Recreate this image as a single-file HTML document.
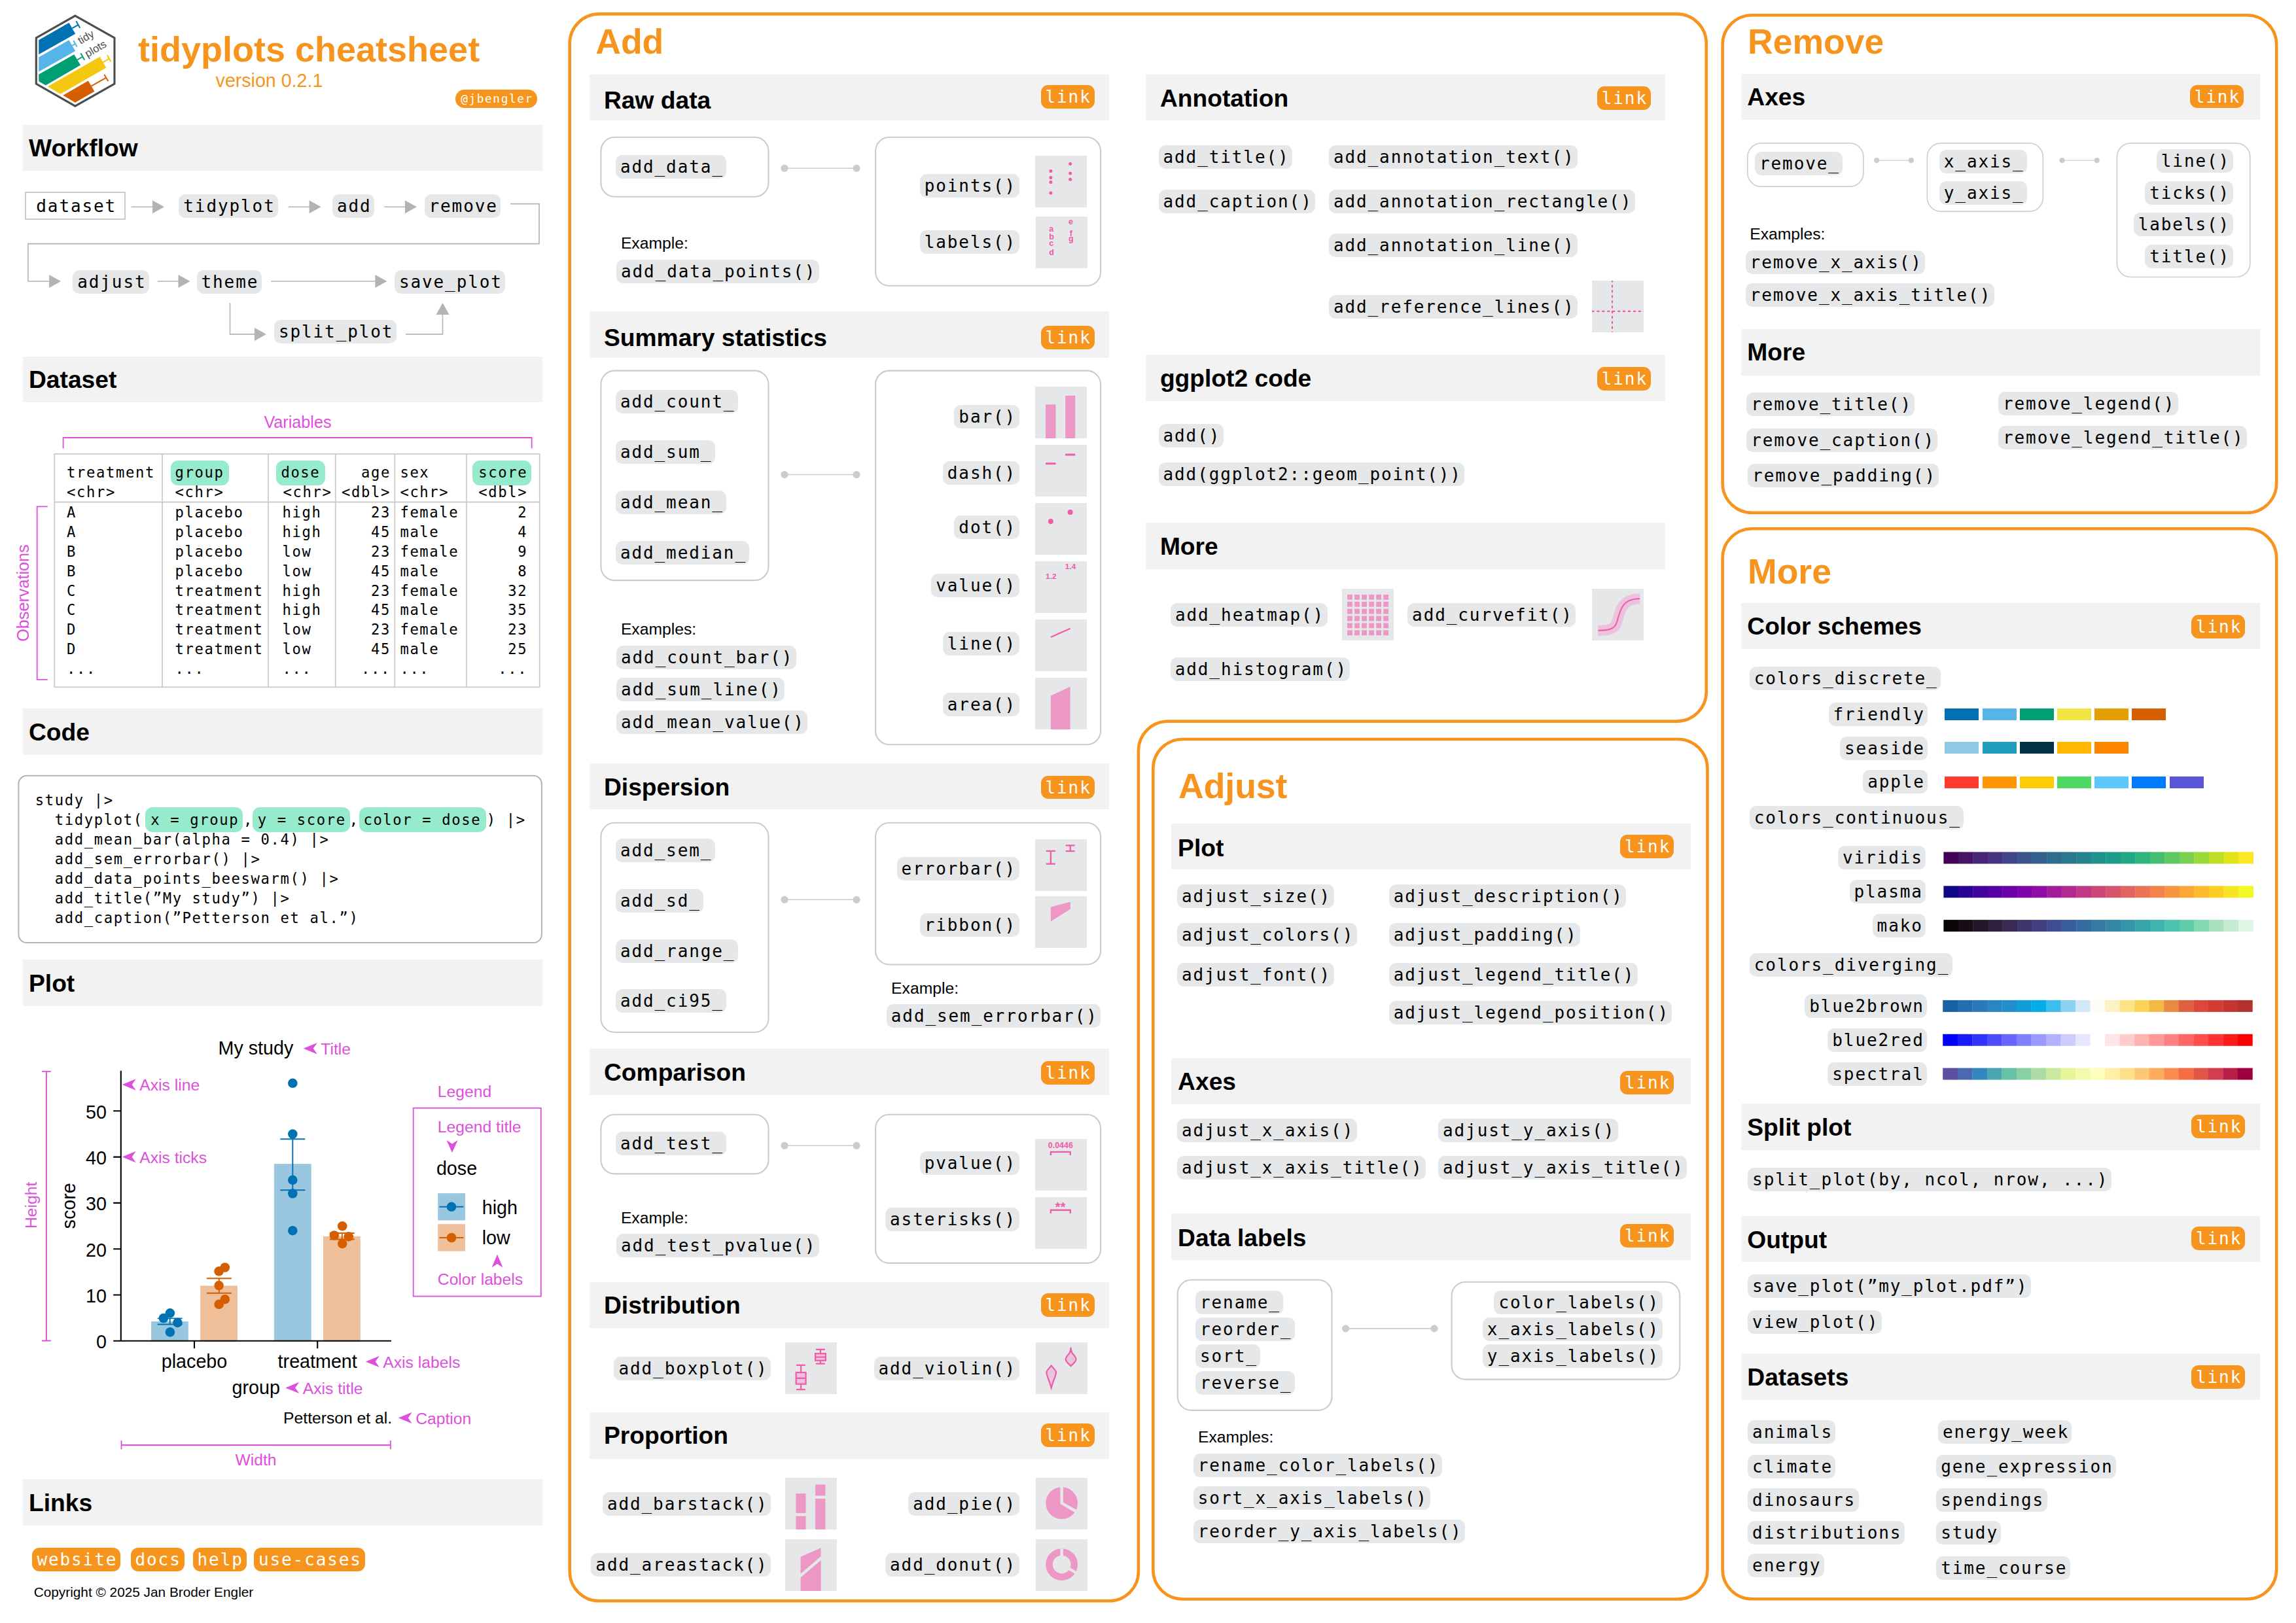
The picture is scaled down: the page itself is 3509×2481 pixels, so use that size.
<!DOCTYPE html>
<html lang="en"><head><meta charset="utf-8"><title>tidyplots cheatsheet</title><style>
html,body{margin:0;padding:0;background:#fff}
body{width:3509px;height:2481px;position:relative;font-family:"Liberation Sans",sans-serif}
.a{position:absolute}
.t{white-space:pre;font-family:"Liberation Sans",sans-serif}
.m{white-space:pre;font-family:"DejaVu Sans Mono","Liberation Mono",monospace}
.p{height:36px;line-height:37.4px;font-size:26.0px;letter-spacing:1.9px;padding-left:7px;border-radius:10px;color:#000}
.bd{background:#f7941d;color:#fff;text-align:center}
.bx{border:1.9px solid #cacaca;background:transparent;box-sizing:border-box}
svg{overflow:visible}
.th{overflow:hidden}
</style></head>
<body>
<svg class="a" style="left:0;top:0" width="3509" height="2481" viewBox="0 0 3509 2481">
<polygon points="59.16,61.31 105.45,34.82 115.18,51.68 59.16,83.3" fill="#0072B2"/>
<line x1="110.37" y1="43.19" x2="119.27" y2="38.06" stroke="#0072B2" stroke-width="2.0"/><line x1="116.44" y1="32.2" x2="122.2" y2="42.67" stroke="#0072B2" stroke-width="2.0"/>
<polygon points="59.16,87.49 105.45,61.31 115.18,78.06 59.16,109.69" fill="#56B4E9"/>
<line x1="110.37" y1="69.69" x2="114.97" y2="67.07" stroke="#56B4E9" stroke-width="2.0"/><line x1="112.25" y1="62.04" x2="117.7" y2="71.57" stroke="#56B4E9" stroke-width="2.0"/>
<polygon points="59.16,113.87 113.3,83.3 123.04,99.53 69.84,130.42 59.16,124.14" fill="#009E73"/>
<line x1="118.22" y1="91.47" x2="126.39" y2="86.75" stroke="#009E73" stroke-width="2.0"/><line x1="123.46" y1="81.41" x2="129.21" y2="91.68" stroke="#009E73" stroke-width="2.0"/>
<polygon points="72.98,132.2 152.57,86.75 162.3,103.51 92.36,143.72" fill="#F5C710"/>
<line x1="157.49" y1="95.13" x2="166.7" y2="89.79" stroke="#F5C710" stroke-width="2.0"/><line x1="163.87" y1="84.35" x2="169.63" y2="94.5" stroke="#F5C710" stroke-width="2.0"/>
<polygon points="96.23,145.81 134.76,123.61 144.4,139.84 114.87,156.81" fill="#D55E00"/>
<line x1="139.48" y1="131.68" x2="162.51" y2="118.59" stroke="#D55E00" stroke-width="2.0"/><line x1="159.37" y1="113.98" x2="165.45" y2="124.35" stroke="#D55E00" stroke-width="2.0"/>
<polygon points="114.87,24.14 174.97,57.96 174.97,128.01 114.87,162.15 55.29,128.01 55.29,57.96" fill="none" stroke="#4d4d4d" stroke-width="3.1" stroke-linejoin="miter"/>
<text x="134.03" y="61.52" transform="rotate(-30 134.03 61.52)" text-anchor="middle" font-family="Liberation Sans,sans-serif" font-size="16.5" fill="#4d4d4d">tidy</text>
<text x="148.9" y="79.32" transform="rotate(-30 148.9 79.32)" text-anchor="middle" font-family="Liberation Sans,sans-serif" font-size="16.5" fill="#4d4d4d">plots</text>
<line x1="200.5" y1="316.2" x2="234" y2="316.2" stroke="#b3b3b3" stroke-width="1.6"/><polygon points="251,316.2 233,306.2 233,326.2" fill="#b3b3b3"/>
<line x1="440.8" y1="316.2" x2="473.6" y2="316.2" stroke="#b3b3b3" stroke-width="1.6"/><polygon points="490.6,316.2 472.6,306.2 472.6,326.2" fill="#b3b3b3"/>
<line x1="587.2" y1="316.2" x2="620" y2="316.2" stroke="#b3b3b3" stroke-width="1.6"/><polygon points="637,316.2 619,306.2 619,326.2" fill="#b3b3b3"/>
<path d="M780 311.6H824V372.6H42.9V430H76" stroke="#b3b3b3" stroke-width="1.6" fill="none"/><polygon points="93.1,430 75.1,420 75.1,440" fill="#b3b3b3"/>
<line x1="240.7" y1="430" x2="273.5" y2="430" stroke="#b3b3b3" stroke-width="1.6"/><polygon points="290.5,430 272.5,420 272.5,440" fill="#b3b3b3"/>
<line x1="414" y1="430" x2="574.4" y2="430" stroke="#b3b3b3" stroke-width="1.6"/><polygon points="591.4,430 573.4,420 573.4,440" fill="#b3b3b3"/>
<path d="M351.5 463V510.9H390" stroke="#b3b3b3" stroke-width="1.6" fill="none"/><polygon points="407,510.9 389,500.9 389,520.9" fill="#b3b3b3"/>
<path d="M620.2 510.9H676.5V480" stroke="#b3b3b3" stroke-width="1.6" fill="none"/><polygon points="676.5,463 666.5,481 686.5,481" fill="#b3b3b3"/>
<path d="M96.6 685.5V669H812.6V685.5" stroke="#dc50dc" stroke-width="1.8" fill="none"/>
<path d="M72.8 774.4H56.7V1038.9H72.8" stroke="#dc50dc" stroke-width="1.8" fill="none"/>
<rect x="83.2" y="693.9" width="741.6" height="356.5" fill="none" stroke="#ccc" stroke-width="1.8"/>
<path d="M83.2 767.5H824.8M248 693.9V1050.4M410 693.9V1050.4M512.8 693.9V1050.4M603.3 693.9V1050.4M712.9 693.9V1050.4" stroke="#ccc" stroke-width="1.8" fill="none"/>
<rect x="28.4" y="1185.8" width="799.5" height="255.2" rx="12.5" fill="none" stroke="#b3b3b3" stroke-width="2"/>
<polygon points="463.8,1602.7 484.8,1594 478.8,1602.7 484.8,1611.4" fill="#dc50dc"/>
<polygon points="186.7,1658 207.7,1649.3 201.7,1658 207.7,1666.7" fill="#dc50dc"/>
<polygon points="186.7,1768.5 207.7,1759.8 201.7,1768.5 207.7,1777.2" fill="#dc50dc"/>
<polygon points="558.8,2081.4 579.8,2072.7 573.8,2081.4 579.8,2090.1" fill="#dc50dc"/>
<polygon points="436.2,2121.4 457.2,2112.7 451.2,2121.4 457.2,2130.1" fill="#dc50dc"/>
<polygon points="608.7,2167.4 629.7,2158.7 623.7,2167.4 629.7,2176.1" fill="#dc50dc"/>
<path d="M64 1637.8H77.8M64 2049.5H77.8M70.9 1637.8V2049.5" stroke="#dc50dc" stroke-width="1.8" fill="none"/>
<path d="M185.5 2202V2215.5M596.8 2202V2215.5M185.5 2209H596.8" stroke="#dc50dc" stroke-width="1.8" fill="none"/>
<rect x="231.1" y="2019.92" width="56.7" height="29.88" fill="#99c7e0"/>
<rect x="306.2" y="1965.44" width="56.8" height="84.36" fill="#eebf99"/>
<rect x="418.9" y="1779.15" width="56.8" height="270.65" fill="#99c7e0"/>
<rect x="494" y="1889.87" width="56.8" height="159.93" fill="#eebf99"/>
<path d="M184.8 1636.7V2049.8M173.2 2049.8H597.9M297 2049.8V2061.3M485.2 2049.8V2061.3M173.2 1979.5H184.8M173.2 1909.2H184.8M173.2 1838.9H184.8M173.2 1768.6H184.8M173.2 1698.3H184.8" stroke="#000" stroke-width="2.1" fill="none"/>
<path d="M428.3 1741.18H466.3M428.3 1819.22H466.3M447.3 1741.18V1819.22" stroke="#0072B2" stroke-width="1.9" fill="none"/>
<circle cx="447.3" cy="1655.8" r="7.3" fill="#0072B2"/>
<circle cx="447.3" cy="1733.6" r="7.3" fill="#0072B2"/>
<circle cx="447.3" cy="1803.8" r="7.3" fill="#0072B2"/>
<circle cx="447.3" cy="1824.5" r="7.3" fill="#0072B2"/>
<circle cx="447.3" cy="1881.2" r="7.3" fill="#0072B2"/>
<path d="M503.8 1884.95H541.8M503.8 1894.44H541.8M522.8 1884.95V1894.44" stroke="#D55E00" stroke-width="1.9" fill="none"/>
<circle cx="523.2" cy="1874.3" r="7.3" fill="#D55E00"/>
<circle cx="510.9" cy="1888.5" r="7.3" fill="#D55E00"/>
<circle cx="532.8" cy="1890.4" r="7.3" fill="#D55E00"/>
<circle cx="523.2" cy="1901.1" r="7.3" fill="#D55E00"/>
<path d="M240.7 2015.35H278.7M240.7 2024.49H278.7M259.7 2015.35V2024.49" stroke="#0072B2" stroke-width="1.9" fill="none"/>
<circle cx="259.9" cy="2007.3" r="7.3" fill="#0072B2"/>
<circle cx="249.9" cy="2015" r="7.3" fill="#0072B2"/>
<circle cx="271.4" cy="2021.9" r="7.3" fill="#0072B2"/>
<circle cx="259.9" cy="2036.4" r="7.3" fill="#0072B2"/>
<path d="M315.8 1954.19H353.8M315.8 1976.69H353.8M334.8 1954.19V1976.69" stroke="#D55E00" stroke-width="1.9" fill="none"/>
<circle cx="343.8" cy="1937.5" r="7.3" fill="#D55E00"/>
<circle cx="334.6" cy="1943.3" r="7.3" fill="#D55E00"/>
<circle cx="334.6" cy="1965.1" r="7.3" fill="#D55E00"/>
<circle cx="343.8" cy="1986.2" r="7.3" fill="#D55E00"/>
<circle cx="334.6" cy="1993.9" r="7.3" fill="#D55E00"/>
<rect x="631.7" y="1693.8" width="195.1" height="287.8" fill="none" stroke="#dc50dc" stroke-width="1.8"/>
<polygon points="691,1762 682.5,1743 691,1748.5 699.5,1743" fill="#dc50dc"/>
<rect x="669.2" y="1824.1" width="41.8" height="41.4" fill="#99c7e0"/><line x1="671.5" y1="1844.8" x2="708.3" y2="1844.8" stroke="#0072B2" stroke-width="1.9"/><circle cx="690" cy="1844.8" r="7.3" fill="#0072B2"/>
<rect x="669.2" y="1871.2" width="41.8" height="41.4" fill="#eebf99"/><line x1="671.5" y1="1892" x2="708.3" y2="1892" stroke="#D55E00" stroke-width="1.9"/><circle cx="690" cy="1892" r="7.3" fill="#D55E00"/>
<polygon points="760,1917.6 768.5,1937.5 760,1932 751.5,1937.5" fill="#dc50dc"/>
<path d="M915.7 21.4H2562.8A45 45 0 0 1 2607.8 66.4V1057.6A45 45 0 0 1 2562.8 1102.6H1784.9A45 45 0 0 0 1739.9 1147.6V2402.2A45 45 0 0 1 1694.9 2447.2H915.7A45 45 0 0 1 870.7 2402.2V66.4A45 45 0 0 1 915.7 21.4Z" fill="none" stroke="#f7941d" stroke-width="4.6"/>
<rect x="918.4" y="209.8" width="256.1" height="90.9" rx="21" fill="none" stroke="#cbcbcb" stroke-width="2.1"/>
<line x1="1199" y1="257.2" x2="1309" y2="257.2" stroke="#ccc" stroke-width="1.6"/><circle cx="1199" cy="257.2" r="5.6" fill="#ccc"/><circle cx="1309" cy="257.2" r="5.6" fill="#ccc"/>
<rect x="1338.1" y="209.8" width="344" height="227" rx="21" fill="none" stroke="#cbcbcb" stroke-width="2.1"/>
<rect x="918.4" y="566.6" width="256.1" height="320.5" rx="21" fill="none" stroke="#cbcbcb" stroke-width="2.1"/>
<line x1="1199" y1="725.5" x2="1309" y2="725.5" stroke="#ccc" stroke-width="1.6"/><circle cx="1199" cy="725.5" r="5.6" fill="#ccc"/><circle cx="1309" cy="725.5" r="5.6" fill="#ccc"/>
<rect x="1338.1" y="566.6" width="344" height="571.6" rx="21" fill="none" stroke="#cbcbcb" stroke-width="2.1"/>
<rect x="918.4" y="1257.8" width="256.1" height="320.2" rx="21" fill="none" stroke="#cbcbcb" stroke-width="2.1"/>
<line x1="1199" y1="1375.3" x2="1309" y2="1375.3" stroke="#ccc" stroke-width="1.6"/><circle cx="1199" cy="1375.3" r="5.6" fill="#ccc"/><circle cx="1309" cy="1375.3" r="5.6" fill="#ccc"/>
<rect x="1338.1" y="1257.8" width="344" height="216.7" rx="21" fill="none" stroke="#cbcbcb" stroke-width="2.1"/>
<rect x="918.4" y="1703.8" width="256.1" height="90.6" rx="21" fill="none" stroke="#cbcbcb" stroke-width="2.1"/>
<line x1="1199" y1="1751.2" x2="1309" y2="1751.2" stroke="#ccc" stroke-width="1.6"/><circle cx="1199" cy="1751.2" r="5.6" fill="#ccc"/><circle cx="1309" cy="1751.2" r="5.6" fill="#ccc"/>
<rect x="1338.1" y="1703.8" width="344" height="227.1" rx="21" fill="none" stroke="#cbcbcb" stroke-width="2.1"/>
<rect x="1762.3" y="1130" width="847.2" height="1314.5" rx="45" fill="none" stroke="#f7941d" stroke-width="4.6"/>
<rect x="1799.8" y="1956.5" width="235.8" height="199.4" rx="21" fill="none" stroke="#cbcbcb" stroke-width="2.1"/>
<line x1="2056.6" y1="2030.9" x2="2192" y2="2030.9" stroke="#ccc" stroke-width="1.6"/><circle cx="2056.6" cy="2030.9" r="5.6" fill="#ccc"/><circle cx="2192" cy="2030.9" r="5.6" fill="#ccc"/>
<rect x="2218.6" y="1959.7" width="348.7" height="148.9" rx="21" fill="none" stroke="#cbcbcb" stroke-width="2.1"/>
<rect x="2632.6" y="23.2" width="846.6" height="760.6" rx="45" fill="none" stroke="#f7941d" stroke-width="4.6"/>
<rect x="2670.8" y="218.9" width="177.1" height="66.3" rx="21" fill="none" stroke="#d0d0d0" stroke-width="1.7"/>
<line x1="2868.2" y1="245.1" x2="2920.9" y2="245.1" stroke="#ccc" stroke-width="1.2"/><circle cx="2868.2" cy="245.1" r="4.2" fill="#ccc"/><circle cx="2920.9" cy="245.1" r="4.2" fill="#ccc"/>
<rect x="2945.4" y="218.9" width="177" height="104.3" rx="21" fill="none" stroke="#d0d0d0" stroke-width="1.7"/>
<line x1="3151.6" y1="245.1" x2="3204.7" y2="245.1" stroke="#ccc" stroke-width="1.2"/><circle cx="3151.6" cy="245.1" r="4.2" fill="#ccc"/><circle cx="3204.7" cy="245.1" r="4.2" fill="#ccc"/>
<rect x="3235.4" y="218.9" width="203.4" height="204.6" rx="21" fill="none" stroke="#d0d0d0" stroke-width="1.7"/>
<rect x="2632.6" y="808.2" width="846.6" height="1636.1" rx="45" fill="none" stroke="#f7941d" stroke-width="4.6"/>
<rect x="2970.4" y="1302.4" width="22.83" height="18" fill="#440154"/><rect x="2992.93" y="1302.4" width="22.83" height="18" fill="#471365"/><rect x="3015.47" y="1302.4" width="22.83" height="18" fill="#482475"/><rect x="3038" y="1302.4" width="22.83" height="18" fill="#463480"/><rect x="3060.53" y="1302.4" width="22.83" height="18" fill="#414487"/><rect x="3083.07" y="1302.4" width="22.83" height="18" fill="#3b528b"/><rect x="3105.6" y="1302.4" width="22.83" height="18" fill="#355f8d"/><rect x="3128.13" y="1302.4" width="22.83" height="18" fill="#2f6c8e"/><rect x="3150.67" y="1302.4" width="22.83" height="18" fill="#2a788e"/><rect x="3173.2" y="1302.4" width="22.83" height="18" fill="#25848e"/><rect x="3195.73" y="1302.4" width="22.83" height="18" fill="#21918c"/><rect x="3218.27" y="1302.4" width="22.83" height="18" fill="#1e9c89"/><rect x="3240.8" y="1302.4" width="22.83" height="18" fill="#22a884"/><rect x="3263.33" y="1302.4" width="22.83" height="18" fill="#2fb47c"/><rect x="3285.87" y="1302.4" width="22.83" height="18" fill="#44bf70"/><rect x="3308.4" y="1302.4" width="22.83" height="18" fill="#5ec962"/><rect x="3330.93" y="1302.4" width="22.83" height="18" fill="#7ad151"/><rect x="3353.47" y="1302.4" width="22.83" height="18" fill="#9bd93c"/><rect x="3376" y="1302.4" width="22.83" height="18" fill="#bddf26"/><rect x="3398.53" y="1302.4" width="22.83" height="18" fill="#dfe318"/><rect x="3421.07" y="1302.4" width="22.83" height="18" fill="#fde725"/>
<rect x="2970.4" y="1354.3" width="22.83" height="18" fill="#0d0887"/><rect x="2992.93" y="1354.3" width="22.83" height="18" fill="#2a0593"/><rect x="3015.47" y="1354.3" width="22.83" height="18" fill="#41049d"/><rect x="3038" y="1354.3" width="22.83" height="18" fill="#5601a4"/><rect x="3060.53" y="1354.3" width="22.83" height="18" fill="#6a00a8"/><rect x="3083.07" y="1354.3" width="22.83" height="18" fill="#7e03a8"/><rect x="3105.6" y="1354.3" width="22.83" height="18" fill="#8f0da4"/><rect x="3128.13" y="1354.3" width="22.83" height="18" fill="#a11b9b"/><rect x="3150.67" y="1354.3" width="22.83" height="18" fill="#b12a90"/><rect x="3173.2" y="1354.3" width="22.83" height="18" fill="#bf3984"/><rect x="3195.73" y="1354.3" width="22.83" height="18" fill="#cc4778"/><rect x="3218.27" y="1354.3" width="22.83" height="18" fill="#d6556d"/><rect x="3240.8" y="1354.3" width="22.83" height="18" fill="#e16462"/><rect x="3263.33" y="1354.3" width="22.83" height="18" fill="#ea7457"/><rect x="3285.87" y="1354.3" width="22.83" height="18" fill="#f2844b"/><rect x="3308.4" y="1354.3" width="22.83" height="18" fill="#f89540"/><rect x="3330.93" y="1354.3" width="22.83" height="18" fill="#fca636"/><rect x="3353.47" y="1354.3" width="22.83" height="18" fill="#feba2c"/><rect x="3376" y="1354.3" width="22.83" height="18" fill="#fcce25"/><rect x="3398.53" y="1354.3" width="22.83" height="18" fill="#f7e425"/><rect x="3421.07" y="1354.3" width="22.83" height="18" fill="#f0f921"/>
<rect x="2970.4" y="1406.1" width="22.83" height="18" fill="#0b0405"/><rect x="2992.93" y="1406.1" width="22.83" height="18" fill="#180d16"/><rect x="3015.47" y="1406.1" width="22.83" height="18" fill="#251729"/><rect x="3038" y="1406.1" width="22.83" height="18" fill="#30203e"/><rect x="3060.53" y="1406.1" width="22.83" height="18" fill="#382a54"/><rect x="3083.07" y="1406.1" width="22.83" height="18" fill="#3e356b"/><rect x="3105.6" y="1406.1" width="22.83" height="18" fill="#413f80"/><rect x="3128.13" y="1406.1" width="22.83" height="18" fill="#3e4d93"/><rect x="3150.67" y="1406.1" width="22.83" height="18" fill="#395d9c"/><rect x="3173.2" y="1406.1" width="22.83" height="18" fill="#366ca0"/><rect x="3195.73" y="1406.1" width="22.83" height="18" fill="#357ba3"/><rect x="3218.27" y="1406.1" width="22.83" height="18" fill="#3488a6"/><rect x="3240.8" y="1406.1" width="22.83" height="18" fill="#3497a9"/><rect x="3263.33" y="1406.1" width="22.83" height="18" fill="#37a5ac"/><rect x="3285.87" y="1406.1" width="22.83" height="18" fill="#3eb4ad"/><rect x="3308.4" y="1406.1" width="22.83" height="18" fill="#4bc2ad"/><rect x="3330.93" y="1406.1" width="22.83" height="18" fill="#60ceac"/><rect x="3353.47" y="1406.1" width="22.83" height="18" fill="#85d9b1"/><rect x="3376" y="1406.1" width="22.83" height="18" fill="#a9e1bd"/><rect x="3398.53" y="1406.1" width="22.83" height="18" fill="#c6ebd1"/><rect x="3421.07" y="1406.1" width="22.83" height="18" fill="#def5e5"/>
<rect x="2969.2" y="1528.9" width="22.83" height="18" fill="#1961a5"/><rect x="2991.73" y="1528.9" width="22.83" height="18" fill="#236eb2"/><rect x="3014.27" y="1528.9" width="22.83" height="18" fill="#2a7abb"/><rect x="3036.8" y="1528.9" width="22.83" height="18" fill="#2a85c3"/><rect x="3059.33" y="1528.9" width="22.83" height="18" fill="#228fcc"/><rect x="3081.87" y="1528.9" width="22.83" height="18" fill="#119dd8"/><rect x="3104.4" y="1528.9" width="22.83" height="18" fill="#03aee7"/><rect x="3126.93" y="1528.9" width="22.83" height="18" fill="#3dbded"/><rect x="3149.47" y="1528.9" width="22.83" height="18" fill="#8cd2f3"/><rect x="3172" y="1528.9" width="22.83" height="18" fill="#d0eaf8"/><rect x="3194.53" y="1528.9" width="22.83" height="18" fill="#fefcf6"/><rect x="3217.07" y="1528.9" width="22.83" height="18" fill="#fdf1c4"/><rect x="3239.6" y="1528.9" width="22.83" height="18" fill="#fce487"/><rect x="3262.13" y="1528.9" width="22.83" height="18" fill="#fad359"/><rect x="3284.67" y="1528.9" width="22.83" height="18" fill="#f3b945"/><rect x="3307.2" y="1528.9" width="22.83" height="18" fill="#e78b43"/><rect x="3329.73" y="1528.9" width="22.83" height="18" fill="#df6142"/><rect x="3352.27" y="1528.9" width="22.83" height="18" fill="#dc483a"/><rect x="3374.8" y="1528.9" width="22.83" height="18" fill="#d43b33"/><rect x="3397.33" y="1528.9" width="22.83" height="18" fill="#c53531"/><rect x="3419.87" y="1528.9" width="22.83" height="18" fill="#b3322e"/>
<rect x="2969.2" y="1580.8" width="22.83" height="18" fill="#0000ff"/><rect x="2991.73" y="1580.8" width="22.83" height="18" fill="#1a1aff"/><rect x="3014.27" y="1580.8" width="22.83" height="18" fill="#3333ff"/><rect x="3036.8" y="1580.8" width="22.83" height="18" fill="#4c4cff"/><rect x="3059.33" y="1580.8" width="22.83" height="18" fill="#6666ff"/><rect x="3081.87" y="1580.8" width="22.83" height="18" fill="#8080ff"/><rect x="3104.4" y="1580.8" width="22.83" height="18" fill="#9999ff"/><rect x="3126.93" y="1580.8" width="22.83" height="18" fill="#b2b2ff"/><rect x="3149.47" y="1580.8" width="22.83" height="18" fill="#ccccff"/><rect x="3172" y="1580.8" width="22.83" height="18" fill="#e6e6ff"/><rect x="3194.53" y="1580.8" width="22.83" height="18" fill="#ffffff"/><rect x="3217.07" y="1580.8" width="22.83" height="18" fill="#ffe5e5"/><rect x="3239.6" y="1580.8" width="22.83" height="18" fill="#ffcccc"/><rect x="3262.13" y="1580.8" width="22.83" height="18" fill="#ffb2b2"/><rect x="3284.67" y="1580.8" width="22.83" height="18" fill="#ff9999"/><rect x="3307.2" y="1580.8" width="22.83" height="18" fill="#ff8080"/><rect x="3329.73" y="1580.8" width="22.83" height="18" fill="#ff6666"/><rect x="3352.27" y="1580.8" width="22.83" height="18" fill="#ff4c4c"/><rect x="3374.8" y="1580.8" width="22.83" height="18" fill="#ff3333"/><rect x="3397.33" y="1580.8" width="22.83" height="18" fill="#ff1a1a"/><rect x="3419.87" y="1580.8" width="22.83" height="18" fill="#ff0000"/>
<rect x="2969.2" y="1632.6" width="22.83" height="18" fill="#5e4fa2"/><rect x="2991.73" y="1632.6" width="22.83" height="18" fill="#496aaf"/><rect x="3014.27" y="1632.6" width="22.83" height="18" fill="#3387bc"/><rect x="3036.8" y="1632.6" width="22.83" height="18" fill="#4ba4b1"/><rect x="3059.33" y="1632.6" width="22.83" height="18" fill="#66c2a5"/><rect x="3081.87" y="1632.6" width="22.83" height="18" fill="#89d0a4"/><rect x="3104.4" y="1632.6" width="22.83" height="18" fill="#aadca4"/><rect x="3126.93" y="1632.6" width="22.83" height="18" fill="#c8e99e"/><rect x="3149.47" y="1632.6" width="22.83" height="18" fill="#e6f598"/><rect x="3172" y="1632.6" width="22.83" height="18" fill="#f3faac"/><rect x="3194.53" y="1632.6" width="22.83" height="18" fill="#fffebe"/><rect x="3217.07" y="1632.6" width="22.83" height="18" fill="#fff0a6"/><rect x="3239.6" y="1632.6" width="22.83" height="18" fill="#fee08b"/><rect x="3262.13" y="1632.6" width="22.83" height="18" fill="#fdc776"/><rect x="3284.67" y="1632.6" width="22.83" height="18" fill="#fdad60"/><rect x="3307.2" y="1632.6" width="22.83" height="18" fill="#f88c51"/><rect x="3329.73" y="1632.6" width="22.83" height="18" fill="#f46d43"/><rect x="3352.27" y="1632.6" width="22.83" height="18" fill="#e45549"/><rect x="3374.8" y="1632.6" width="22.83" height="18" fill="#d43d4f"/><rect x="3397.33" y="1632.6" width="22.83" height="18" fill="#b81e48"/><rect x="3419.87" y="1632.6" width="22.83" height="18" fill="#9e0142"/>
</svg>
<div class="a t" style="top:48.48px;font-size:54px;line-height:54px;color:#f7941d;font-weight:bold;left:211px;">tidyplots cheatsheet</div>
<div class="a t" style="top:108.99px;font-size:28.6px;line-height:28.6px;color:#f7941d;left:329.6px;">version 0.2.1</div>
<div class="a m bd" style="left:696.4px;top:137px;width:124.6px;height:27.6px;line-height:29px;font-size:17.6px;letter-spacing:1.7px;border-radius:13.8px;text-indent:1.7px">@jbengler</div>
<div class="a" style="left:35px;top:190.5px;width:794px;height:70.6px;background:#f2f2f2;"></div>
<div class="a t" style="top:208.31px;font-size:37.2px;line-height:37.2px;color:#000;font-weight:bold;left:44px;">Workflow</div>
<div class="a" style="left:35px;top:544.6px;width:794px;height:70.6px;background:#f2f2f2;"></div>
<div class="a t" style="top:562.41px;font-size:37.2px;line-height:37.2px;color:#000;font-weight:bold;left:44px;">Dataset</div>
<div class="a" style="left:35px;top:1083px;width:794px;height:70.6px;background:#f2f2f2;"></div>
<div class="a t" style="top:1100.81px;font-size:37.2px;line-height:37.2px;color:#000;font-weight:bold;left:44px;">Code</div>
<div class="a" style="left:35px;top:1467.4px;width:794px;height:70.6px;background:#f2f2f2;"></div>
<div class="a t" style="top:1485.21px;font-size:37.2px;line-height:37.2px;color:#000;font-weight:bold;left:44px;">Plot</div>
<div class="a" style="left:35px;top:2261.2px;width:794px;height:70.6px;background:#f2f2f2;"></div>
<div class="a t" style="top:2279.01px;font-size:37.2px;line-height:37.2px;color:#000;font-weight:bold;left:44px;">Links</div>
<div class="a m" style="left:37.7px;top:293.2px;width:150.2px;height:38.6px;border:2px solid #ccc;box-sizing:content-box;font-size:26.0px;letter-spacing:1.9px;line-height:40.6px;text-indent:15.6px">dataset</div>
<div class="a m p" style="left:273.3px;top:296.5px;width:144.9px;background:#e6e7e8">tidyplot</div>
<div class="a m p" style="left:507.9px;top:296.5px;width:57.15px;background:#e6e7e8">add</div>
<div class="a m p" style="left:648.5px;top:296.5px;width:109.8px;background:#e6e7e8">remove</div>
<div class="a m p" style="left:111.2px;top:412.6px;width:109.8px;background:#e6e7e8">adjust</div>
<div class="a m p" style="left:300.5px;top:412.6px;width:92.25px;background:#e6e7e8">theme</div>
<div class="a m p" style="left:602.9px;top:412.6px;width:162.45px;background:#e6e7e8">save_plot</div>
<div class="a m p" style="left:418.9px;top:488.5px;width:180px;background:#e6e7e8">split_plot</div>
<div class="a t" style="top:632.97px;font-size:25.2px;line-height:25.2px;color:#dc50dc;left:-45px;width:1000px;text-align:center;">Variables</div>
<div class="a t" style="left:-264.5px;top:894px;width:600px;text-align:center;font-size:25.2px;line-height:25.2px;color:#dc50dc;transform:rotate(-90deg)">Observations</div>
<div class="a" style="left:261px;top:703.5px;width:89.3px;height:38.3px;background:#96ebcd;border-radius:11px"></div>
<div class="a" style="left:422px;top:703.5px;width:74.7px;height:38.3px;background:#96ebcd;border-radius:11px"></div>
<div class="a" style="left:722.1px;top:703.5px;width:89.7px;height:38.3px;background:#96ebcd;border-radius:11px"></div>
<div class="a m" style="top:711.22px;font-size:22.2px;line-height:22.2px;letter-spacing:1.63px;color:#000;left:102px;">treatment</div>
<div class="a m" style="top:740.72px;font-size:22.2px;line-height:22.2px;letter-spacing:1.63px;color:#000;left:102px;">&lt;chr&gt;</div>
<div class="a m" style="top:771.72px;font-size:22.2px;line-height:22.2px;letter-spacing:1.63px;color:#000;left:102px;">A</div>
<div class="a m" style="top:801.67px;font-size:22.2px;line-height:22.2px;letter-spacing:1.63px;color:#000;left:102px;">A</div>
<div class="a m" style="top:831.62px;font-size:22.2px;line-height:22.2px;letter-spacing:1.63px;color:#000;left:102px;">B</div>
<div class="a m" style="top:861.57px;font-size:22.2px;line-height:22.2px;letter-spacing:1.63px;color:#000;left:102px;">B</div>
<div class="a m" style="top:891.52px;font-size:22.2px;line-height:22.2px;letter-spacing:1.63px;color:#000;left:102px;">C</div>
<div class="a m" style="top:921.47px;font-size:22.2px;line-height:22.2px;letter-spacing:1.63px;color:#000;left:102px;">C</div>
<div class="a m" style="top:951.42px;font-size:22.2px;line-height:22.2px;letter-spacing:1.63px;color:#000;left:102px;">D</div>
<div class="a m" style="top:981.37px;font-size:22.2px;line-height:22.2px;letter-spacing:1.63px;color:#000;left:102px;">D</div>
<div class="a m" style="top:1011.32px;font-size:22.2px;line-height:22.2px;letter-spacing:1.63px;color:#000;left:102px;">...</div>
<div class="a m" style="top:711.22px;font-size:22.2px;line-height:22.2px;letter-spacing:1.63px;color:#000;left:267.6px;">group</div>
<div class="a m" style="top:740.72px;font-size:22.2px;line-height:22.2px;letter-spacing:1.63px;color:#000;left:267.6px;">&lt;chr&gt;</div>
<div class="a m" style="top:771.72px;font-size:22.2px;line-height:22.2px;letter-spacing:1.63px;color:#000;left:267.6px;">placebo</div>
<div class="a m" style="top:801.67px;font-size:22.2px;line-height:22.2px;letter-spacing:1.63px;color:#000;left:267.6px;">placebo</div>
<div class="a m" style="top:831.62px;font-size:22.2px;line-height:22.2px;letter-spacing:1.63px;color:#000;left:267.6px;">placebo</div>
<div class="a m" style="top:861.57px;font-size:22.2px;line-height:22.2px;letter-spacing:1.63px;color:#000;left:267.6px;">placebo</div>
<div class="a m" style="top:891.52px;font-size:22.2px;line-height:22.2px;letter-spacing:1.63px;color:#000;left:267.6px;">treatment</div>
<div class="a m" style="top:921.47px;font-size:22.2px;line-height:22.2px;letter-spacing:1.63px;color:#000;left:267.6px;">treatment</div>
<div class="a m" style="top:951.42px;font-size:22.2px;line-height:22.2px;letter-spacing:1.63px;color:#000;left:267.6px;">treatment</div>
<div class="a m" style="top:981.37px;font-size:22.2px;line-height:22.2px;letter-spacing:1.63px;color:#000;left:267.6px;">treatment</div>
<div class="a m" style="top:1011.32px;font-size:22.2px;line-height:22.2px;letter-spacing:1.63px;color:#000;left:267.6px;">...</div>
<div class="a m" style="top:711.22px;font-size:22.2px;line-height:22.2px;letter-spacing:1.63px;color:#000;left:429.4px;">dose</div>
<div class="a m" style="top:740.72px;font-size:22.2px;line-height:22.2px;letter-spacing:1.63px;color:#000;left:432.6px;">&lt;chr&gt;</div>
<div class="a m" style="top:771.72px;font-size:22.2px;line-height:22.2px;letter-spacing:1.63px;color:#000;left:431.6px;">high</div>
<div class="a m" style="top:801.67px;font-size:22.2px;line-height:22.2px;letter-spacing:1.63px;color:#000;left:431.6px;">high</div>
<div class="a m" style="top:831.62px;font-size:22.2px;line-height:22.2px;letter-spacing:1.63px;color:#000;left:431.6px;">low</div>
<div class="a m" style="top:861.57px;font-size:22.2px;line-height:22.2px;letter-spacing:1.63px;color:#000;left:431.6px;">low</div>
<div class="a m" style="top:891.52px;font-size:22.2px;line-height:22.2px;letter-spacing:1.63px;color:#000;left:431.6px;">high</div>
<div class="a m" style="top:921.47px;font-size:22.2px;line-height:22.2px;letter-spacing:1.63px;color:#000;left:431.6px;">high</div>
<div class="a m" style="top:951.42px;font-size:22.2px;line-height:22.2px;letter-spacing:1.63px;color:#000;left:431.6px;">low</div>
<div class="a m" style="top:981.37px;font-size:22.2px;line-height:22.2px;letter-spacing:1.63px;color:#000;left:431.6px;">low</div>
<div class="a m" style="top:1011.32px;font-size:22.2px;line-height:22.2px;letter-spacing:1.63px;color:#000;left:431.6px;">...</div>
<div class="a m" style="top:711.22px;font-size:22.2px;line-height:22.2px;letter-spacing:1.63px;color:#000;right:2912.07px;">age</div>
<div class="a m" style="top:740.72px;font-size:22.2px;line-height:22.2px;letter-spacing:1.63px;color:#000;right:2912.07px;">&lt;dbl&gt;</div>
<div class="a m" style="top:771.72px;font-size:22.2px;line-height:22.2px;letter-spacing:1.63px;color:#000;right:2912.07px;">23</div>
<div class="a m" style="top:801.67px;font-size:22.2px;line-height:22.2px;letter-spacing:1.63px;color:#000;right:2912.07px;">45</div>
<div class="a m" style="top:831.62px;font-size:22.2px;line-height:22.2px;letter-spacing:1.63px;color:#000;right:2912.07px;">23</div>
<div class="a m" style="top:861.57px;font-size:22.2px;line-height:22.2px;letter-spacing:1.63px;color:#000;right:2912.07px;">45</div>
<div class="a m" style="top:891.52px;font-size:22.2px;line-height:22.2px;letter-spacing:1.63px;color:#000;right:2912.07px;">23</div>
<div class="a m" style="top:921.47px;font-size:22.2px;line-height:22.2px;letter-spacing:1.63px;color:#000;right:2912.07px;">45</div>
<div class="a m" style="top:951.42px;font-size:22.2px;line-height:22.2px;letter-spacing:1.63px;color:#000;right:2912.07px;">23</div>
<div class="a m" style="top:981.37px;font-size:22.2px;line-height:22.2px;letter-spacing:1.63px;color:#000;right:2912.07px;">45</div>
<div class="a m" style="top:1011.32px;font-size:22.2px;line-height:22.2px;letter-spacing:1.63px;color:#000;right:2912.07px;">...</div>
<div class="a m" style="top:711.22px;font-size:22.2px;line-height:22.2px;letter-spacing:1.63px;color:#000;left:611.4px;">sex</div>
<div class="a m" style="top:740.72px;font-size:22.2px;line-height:22.2px;letter-spacing:1.63px;color:#000;left:611.4px;">&lt;chr&gt;</div>
<div class="a m" style="top:771.72px;font-size:22.2px;line-height:22.2px;letter-spacing:1.63px;color:#000;left:611.4px;">female</div>
<div class="a m" style="top:801.67px;font-size:22.2px;line-height:22.2px;letter-spacing:1.63px;color:#000;left:611.4px;">male</div>
<div class="a m" style="top:831.62px;font-size:22.2px;line-height:22.2px;letter-spacing:1.63px;color:#000;left:611.4px;">female</div>
<div class="a m" style="top:861.57px;font-size:22.2px;line-height:22.2px;letter-spacing:1.63px;color:#000;left:611.4px;">male</div>
<div class="a m" style="top:891.52px;font-size:22.2px;line-height:22.2px;letter-spacing:1.63px;color:#000;left:611.4px;">female</div>
<div class="a m" style="top:921.47px;font-size:22.2px;line-height:22.2px;letter-spacing:1.63px;color:#000;left:611.4px;">male</div>
<div class="a m" style="top:951.42px;font-size:22.2px;line-height:22.2px;letter-spacing:1.63px;color:#000;left:611.4px;">female</div>
<div class="a m" style="top:981.37px;font-size:22.2px;line-height:22.2px;letter-spacing:1.63px;color:#000;left:611.4px;">male</div>
<div class="a m" style="top:1011.32px;font-size:22.2px;line-height:22.2px;letter-spacing:1.63px;color:#000;left:611.4px;">...</div>
<div class="a m" style="top:711.22px;font-size:22.2px;line-height:22.2px;letter-spacing:1.63px;color:#000;right:2702.87px;">score</div>
<div class="a m" style="top:740.72px;font-size:22.2px;line-height:22.2px;letter-spacing:1.63px;color:#000;right:2702.87px;">&lt;dbl&gt;</div>
<div class="a m" style="top:771.72px;font-size:22.2px;line-height:22.2px;letter-spacing:1.63px;color:#000;right:2702.87px;">2</div>
<div class="a m" style="top:801.67px;font-size:22.2px;line-height:22.2px;letter-spacing:1.63px;color:#000;right:2702.87px;">4</div>
<div class="a m" style="top:831.62px;font-size:22.2px;line-height:22.2px;letter-spacing:1.63px;color:#000;right:2702.87px;">9</div>
<div class="a m" style="top:861.57px;font-size:22.2px;line-height:22.2px;letter-spacing:1.63px;color:#000;right:2702.87px;">8</div>
<div class="a m" style="top:891.52px;font-size:22.2px;line-height:22.2px;letter-spacing:1.63px;color:#000;right:2702.87px;">32</div>
<div class="a m" style="top:921.47px;font-size:22.2px;line-height:22.2px;letter-spacing:1.63px;color:#000;right:2702.87px;">35</div>
<div class="a m" style="top:951.42px;font-size:22.2px;line-height:22.2px;letter-spacing:1.63px;color:#000;right:2702.87px;">23</div>
<div class="a m" style="top:981.37px;font-size:22.2px;line-height:22.2px;letter-spacing:1.63px;color:#000;right:2702.87px;">25</div>
<div class="a m" style="top:1011.32px;font-size:22.2px;line-height:22.2px;letter-spacing:1.63px;color:#000;right:2702.87px;">...</div>
<div class="a" style="left:222.3px;top:1234px;width:148.7px;height:38.3px;background:#96ebcd;border-radius:11px"></div>
<div class="a" style="left:385.6px;top:1234px;width:149.1px;height:38.3px;background:#96ebcd;border-radius:11px"></div>
<div class="a" style="left:549.3px;top:1234px;width:193.5px;height:38.3px;background:#96ebcd;border-radius:11px"></div>
<div class="a m" style="top:1212.22px;font-size:22.2px;line-height:22.2px;letter-spacing:1.63px;color:#000;left:53.8px;">study |&gt;</div>
<div class="a m" style="top:1242.17px;font-size:22.2px;line-height:22.2px;letter-spacing:1.63px;color:#000;left:53.8px;">  tidyplot(</div>
<div class="a m" style="top:1242.17px;font-size:22.2px;line-height:22.2px;letter-spacing:1.63px;color:#000;left:230.3px;">x = group</div>
<div class="a m" style="top:1242.17px;font-size:22.2px;line-height:22.2px;letter-spacing:1.63px;color:#000;left:371.9px;">,</div>
<div class="a m" style="top:1242.17px;font-size:22.2px;line-height:22.2px;letter-spacing:1.63px;color:#000;left:393.8px;">y = score</div>
<div class="a m" style="top:1242.17px;font-size:22.2px;line-height:22.2px;letter-spacing:1.63px;color:#000;left:533.8px;">,</div>
<div class="a m" style="top:1242.17px;font-size:22.2px;line-height:22.2px;letter-spacing:1.63px;color:#000;left:555.4px;">color = dose</div>
<div class="a m" style="top:1242.17px;font-size:22.2px;line-height:22.2px;letter-spacing:1.63px;color:#000;left:743.8px;">) |&gt;</div>
<div class="a m" style="top:1272.12px;font-size:22.2px;line-height:22.2px;letter-spacing:1.63px;color:#000;left:53.8px;">  add_mean_bar(alpha = 0.4) |&gt;</div>
<div class="a m" style="top:1302.07px;font-size:22.2px;line-height:22.2px;letter-spacing:1.63px;color:#000;left:53.8px;">  add_sem_errorbar() |&gt;</div>
<div class="a m" style="top:1332.02px;font-size:22.2px;line-height:22.2px;letter-spacing:1.63px;color:#000;left:53.8px;">  add_data_points_beeswarm() |&gt;</div>
<div class="a m" style="top:1361.97px;font-size:22.2px;line-height:22.2px;letter-spacing:1.63px;color:#000;left:53.8px;">  add_title(”My study”) |&gt;</div>
<div class="a m" style="top:1391.92px;font-size:22.2px;line-height:22.2px;letter-spacing:1.63px;color:#000;left:53.8px;">  add_caption(”Petterson et al.”)</div>
<div class="a t" style="top:1588.1px;font-size:28.7px;line-height:28.7px;color:#000;left:333.5px;">My study</div>
<div class="a t" style="top:1591.99px;font-size:24.7px;line-height:24.7px;color:#dc50dc;left:490.3px;">Title</div>
<div class="a t" style="top:1647.29px;font-size:24.7px;line-height:24.7px;color:#dc50dc;left:213.2px;">Axis line</div>
<div class="a t" style="top:1757.79px;font-size:24.7px;line-height:24.7px;color:#dc50dc;left:213.2px;">Axis ticks</div>
<div class="a t" style="top:2070.69px;font-size:24.7px;line-height:24.7px;color:#dc50dc;left:585.3px;">Axis labels</div>
<div class="a t" style="top:2110.69px;font-size:24.7px;line-height:24.7px;color:#dc50dc;left:462.7px;">Axis title</div>
<div class="a t" style="top:2156.69px;font-size:24.7px;line-height:24.7px;color:#dc50dc;left:635.2px;">Caption</div>
<div class="a t" style="top:2156.49px;font-size:24.7px;line-height:24.7px;color:#000;left:433.1px;">Petterson et al.</div>
<div class="a t" style="left:-252.5px;top:1830.35px;width:600px;text-align:center;font-size:24.7px;line-height:24.7px;color:#dc50dc;transform:rotate(-90deg)">Height</div>
<div class="a t" style="left:-194.8px;top:1829.25px;width:600px;text-align:center;font-size:28.7px;line-height:28.7px;color:#000;transform:rotate(-90deg)">score</div>
<div class="a t" style="top:2220.19px;font-size:24.7px;line-height:24.7px;color:#dc50dc;left:-109px;width:1000px;text-align:center;">Width</div>
<div class="a t" style="top:2037.1px;font-size:28.7px;line-height:28.7px;color:#000;right:3346.1px;">0</div>
<div class="a t" style="top:1966.8px;font-size:28.7px;line-height:28.7px;color:#000;right:3346.1px;">10</div>
<div class="a t" style="top:1896.5px;font-size:28.7px;line-height:28.7px;color:#000;right:3346.1px;">20</div>
<div class="a t" style="top:1826.2px;font-size:28.7px;line-height:28.7px;color:#000;right:3346.1px;">30</div>
<div class="a t" style="top:1755.9px;font-size:28.7px;line-height:28.7px;color:#000;right:3346.1px;">40</div>
<div class="a t" style="top:1685.6px;font-size:28.7px;line-height:28.7px;color:#000;right:3346.1px;">50</div>
<div class="a t" style="top:2067.1px;font-size:28.7px;line-height:28.7px;color:#000;left:-203px;width:1000px;text-align:center;">placebo</div>
<div class="a t" style="top:2067.1px;font-size:28.7px;line-height:28.7px;color:#000;left:-14.8px;width:1000px;text-align:center;">treatment</div>
<div class="a t" style="top:2107.1px;font-size:28.7px;line-height:28.7px;color:#000;left:354.5px;">group</div>
<div class="a t" style="top:1657.39px;font-size:24.7px;line-height:24.7px;color:#dc50dc;left:668.8px;">Legend</div>
<div class="a t" style="top:1711.09px;font-size:24.7px;line-height:24.7px;color:#dc50dc;left:668.8px;">Legend title</div>
<div class="a t" style="top:1771.7px;font-size:28.7px;line-height:28.7px;color:#000;left:666.9px;">dose</div>
<div class="a t" style="top:1831.5px;font-size:28.7px;line-height:28.7px;color:#000;left:736.7px;">high</div>
<div class="a t" style="top:1878.1px;font-size:28.7px;line-height:28.7px;color:#000;left:736.7px;">low</div>
<div class="a t" style="top:1943.69px;font-size:24.7px;line-height:24.7px;color:#dc50dc;left:668.8px;">Color labels</div>
<div class="a m bd" style="left:49.4px;top:2366px;width:135px;height:36px;line-height:37.4px;font-size:26px;letter-spacing:1.9px;border-radius:11px;text-indent:1.9px">website</div>
<div class="a m bd" style="left:199.7px;top:2366px;width:82px;height:36px;line-height:37.4px;font-size:26px;letter-spacing:1.9px;border-radius:11px;text-indent:1.9px">docs</div>
<div class="a m bd" style="left:294.7px;top:2366px;width:82.1px;height:36px;line-height:37.4px;font-size:26px;letter-spacing:1.9px;border-radius:11px;text-indent:1.9px">help</div>
<div class="a m bd" style="left:388.3px;top:2366px;width:169.4px;height:36px;line-height:37.4px;font-size:26px;letter-spacing:1.9px;border-radius:11px;text-indent:1.9px">use-cases</div>
<div class="a t" style="top:2423.59px;font-size:20.8px;line-height:20.8px;color:#000;left:51.7px;">Copyright © 2025 Jan Broder Engler</div>
<div class="a t" style="top:37.11px;font-size:53.5px;line-height:53.5px;color:#f7941d;font-weight:bold;left:910.3px;">Add</div>
<div class="a" style="left:901px;top:113.5px;width:794px;height:70.6px;background:#f2f2f2;"></div>
<div class="a t" style="top:134.81px;font-size:37.2px;line-height:37.2px;color:#000;font-weight:bold;left:923px;">Raw data</div>
<div class="a m bd" style="left:1590.6px;top:130.2px;width:82.2px;height:35.8px;line-height:37.2px;font-size:26px;letter-spacing:1.9px;border-radius:11px;text-indent:1.9px">link</div>
<div class="a m p" style="left:940.9px;top:236.5px;width:162.45px;background:#e6e7e8">add_data_</div>
<div class="a m p" style="left:1405.7px;top:265.8px;width:144.9px;background:#e6e7e8">points()</div>
<svg class="a th" style="left:1582px;top:237.7px" width="79.3" height="79.3" viewBox="0 0 79 79"><rect width="79" height="79" fill="#e6e7e8"/><circle cx="23.8" cy="23.4" r="2.5" fill="#f25aaa"/><circle cx="23.8" cy="33.3" r="2.5" fill="#f25aaa"/><circle cx="23.8" cy="40.3" r="2.5" fill="#f25aaa"/><circle cx="23.8" cy="56.8" r="2.5" fill="#f25aaa"/><circle cx="53.5" cy="12.4" r="2.5" fill="#f25aaa"/><circle cx="53.5" cy="26.9" r="2.5" fill="#f25aaa"/><circle cx="53.5" cy="36" r="2.5" fill="#f25aaa"/></svg>
<div class="a m p" style="left:1405.7px;top:352px;width:144.9px;background:#e6e7e8">labels()</div>
<svg class="a th" style="left:1582.8px;top:331px" width="79.3" height="79.3" viewBox="0 0 79 79"><rect width="79" height="79" fill="#e6e7e8"/><text x="20.2" y="23.4" font-family="Liberation Sans,sans-serif" font-weight="bold" font-size="12.5" fill="#f25aaa">a</text><text x="20.2" y="34.5" font-family="Liberation Sans,sans-serif" font-weight="bold" font-size="12.5" fill="#f25aaa">b</text><text x="20.2" y="44.6" font-family="Liberation Sans,sans-serif" font-weight="bold" font-size="12.5" fill="#f25aaa">c</text><text x="20.2" y="58.5" font-family="Liberation Sans,sans-serif" font-weight="bold" font-size="12.5" fill="#f25aaa">d</text><text x="49.8" y="11.7" font-family="Liberation Sans,sans-serif" font-weight="bold" font-size="12.5" fill="#f25aaa">e</text><text x="51.5" y="29.6" font-family="Liberation Sans,sans-serif" font-weight="bold" font-size="12.5" fill="#f25aaa">f</text><text x="49.8" y="37.6" font-family="Liberation Sans,sans-serif" font-weight="bold" font-size="12.5" fill="#f25aaa">g</text></svg>
<div class="a t" style="top:359.99px;font-size:24.7px;line-height:24.7px;color:#000;left:948.9px;">Example:</div>
<div class="a m p" style="left:942px;top:396.9px;width:302.85px;background:#e6e7e8">add_data_points()</div>
<div class="a" style="left:901px;top:476px;width:794px;height:70.6px;background:#f2f2f2;"></div>
<div class="a t" style="top:497.51px;font-size:37.2px;line-height:37.2px;color:#000;font-weight:bold;left:923px;">Summary statistics</div>
<div class="a m bd" style="left:1590.6px;top:497.9px;width:82.2px;height:35.8px;line-height:37.2px;font-size:26px;letter-spacing:1.9px;border-radius:11px;text-indent:1.9px">link</div>
<div class="a m p" style="left:940.9px;top:596.1px;width:180px;background:#e6e7e8">add_count_</div>
<div class="a m p" style="left:940.9px;top:672.9px;width:144.9px;background:#e6e7e8">add_sum_</div>
<div class="a m p" style="left:940.9px;top:749.7px;width:162.45px;background:#e6e7e8">add_mean_</div>
<div class="a m p" style="left:940.9px;top:826.5px;width:197.55px;background:#e6e7e8">add_median_</div>
<div class="a m p" style="left:1458.35px;top:618.8px;width:92.25px;background:#e6e7e8">bar()</div>
<svg class="a th" style="left:1582px;top:590.6px" width="79.3" height="79.3" viewBox="0 0 79 79"><rect width="79" height="79" fill="#e6e7e8"/><rect x="16" y="27.2" width="15.4" height="52" fill="#ed97c6"/><rect x="46" y="13.8" width="15" height="66" fill="#ed97c6"/></svg>
<div class="a m p" style="left:1440.8px;top:705px;width:109.8px;background:#e6e7e8">dash()</div>
<svg class="a th" style="left:1582px;top:679.9px" width="79.3" height="79.3" viewBox="0 0 79 79"><rect width="79" height="79" fill="#e6e7e8"/><rect x="16" y="27.1" width="15.4" height="3" fill="#f25aaa"/><rect x="46" y="13.5" width="15" height="3" fill="#f25aaa"/></svg>
<div class="a m p" style="left:1458.35px;top:787.8px;width:92.25px;background:#e6e7e8">dot()</div>
<svg class="a th" style="left:1582px;top:768.8px" width="79.3" height="79.3" viewBox="0 0 79 79"><rect width="79" height="79" fill="#e6e7e8"/><circle cx="23.8" cy="27.8" r="4" fill="#f25aaa"/><circle cx="53.4" cy="14" r="4" fill="#f25aaa"/></svg>
<div class="a m p" style="left:1423.25px;top:877.1px;width:127.35px;background:#e6e7e8">value()</div>
<svg class="a th" style="left:1582px;top:857.7px" width="79.3" height="79.3" viewBox="0 0 79 79"><rect width="79" height="79" fill="#e6e7e8"/><text x="16" y="27" font-family="Liberation Sans,sans-serif" font-weight="bold" font-size="11.8" fill="#f25aaa">1.2</text><text x="45.7" y="12" font-family="Liberation Sans,sans-serif" font-weight="bold" font-size="11.8" fill="#f25aaa">1.4</text></svg>
<div class="a m p" style="left:1440.8px;top:966.4px;width:109.8px;background:#e6e7e8">line()</div>
<svg class="a th" style="left:1582px;top:947px" width="79.3" height="79.3" viewBox="0 0 79 79"><rect width="79" height="79" fill="#e6e7e8"/><line x1="23.8" y1="26.9" x2="53.4" y2="13.8" stroke="#f25aaa" stroke-width="2.2"/></svg>
<div class="a m p" style="left:1440.8px;top:1059.2px;width:109.8px;background:#e6e7e8">area()</div>
<svg class="a th" style="left:1582px;top:1036px" width="79.3" height="79.3" viewBox="0 0 79 79"><rect width="79" height="79" fill="#e6e7e8"/><polygon points="23.8,27.4 53.4,13.8 53.4,79 23.8,79" fill="#ed97c6"/></svg>
<div class="a t" style="top:949.79px;font-size:24.7px;line-height:24.7px;color:#000;left:948.9px;">Examples:</div>
<div class="a m p" style="left:942px;top:987.1px;width:267.75px;background:#e6e7e8">add_count_bar()</div>
<div class="a m p" style="left:942px;top:1035.8px;width:250.2px;background:#e6e7e8">add_sum_line()</div>
<div class="a m p" style="left:942px;top:1086px;width:285.3px;background:#e6e7e8">add_mean_value()</div>
<div class="a" style="left:901px;top:1166.8px;width:794px;height:70.6px;background:#f2f2f2;"></div>
<div class="a t" style="top:1184.81px;font-size:37.2px;line-height:37.2px;color:#000;font-weight:bold;left:923px;">Dispersion</div>
<div class="a m bd" style="left:1590.6px;top:1185.6px;width:82.2px;height:35.8px;line-height:37.2px;font-size:26px;letter-spacing:1.9px;border-radius:11px;text-indent:1.9px">link</div>
<div class="a m p" style="left:940.9px;top:1282.4px;width:144.9px;background:#e6e7e8">add_sem_</div>
<div class="a m p" style="left:940.9px;top:1358.95px;width:127.35px;background:#e6e7e8">add_sd_</div>
<div class="a m p" style="left:940.9px;top:1435.5px;width:180px;background:#e6e7e8">add_range_</div>
<div class="a m p" style="left:940.9px;top:1512.05px;width:162.45px;background:#e6e7e8">add_ci95_</div>
<div class="a m p" style="left:1370.6px;top:1309.6px;width:180px;background:#e6e7e8">errorbar()</div>
<svg class="a th" style="left:1582px;top:1282.9px" width="79.3" height="79.3" viewBox="0 0 79 79"><rect width="79" height="79" fill="#e6e7e8"/><path d="M16.7 17.8H30.8M16.7 37.5H30.8M23.8 17.8V37.5" stroke="#f25aaa" stroke-width="2.3" fill="none"/><path d="M46.5 9.4H60.3M46.5 18.1H60.3M53.6 9.4V18.1" stroke="#f25aaa" stroke-width="2.3" fill="none"/></svg>
<div class="a m p" style="left:1405.7px;top:1395.8px;width:144.9px;background:#e6e7e8">ribbon()</div>
<svg class="a th" style="left:1582px;top:1369.6px" width="79.3" height="79.3" viewBox="0 0 79 79"><rect width="79" height="79" fill="#e6e7e8"/><polygon points="23.8,16.4 53.6,8.5 53.6,19.7 23.8,38.4" fill="#ed97c6"/></svg>
<div class="a t" style="top:1499.29px;font-size:24.7px;line-height:24.7px;color:#000;left:1362.1px;">Example:</div>
<div class="a m p" style="left:1354.8px;top:1535.4px;width:320.4px;background:#e6e7e8">add_sem_errorbar()</div>
<div class="a" style="left:901px;top:1603px;width:794px;height:70.6px;background:#f2f2f2;"></div>
<div class="a t" style="top:1621.01px;font-size:37.2px;line-height:37.2px;color:#000;font-weight:bold;left:923px;">Comparison</div>
<div class="a m bd" style="left:1590.6px;top:1622px;width:82.2px;height:35.8px;line-height:37.2px;font-size:26px;letter-spacing:1.9px;border-radius:11px;text-indent:1.9px">link</div>
<div class="a m p" style="left:940.9px;top:1730.3px;width:162.45px;background:#e6e7e8">add_test_</div>
<div class="a m p" style="left:1405.7px;top:1759.8px;width:144.9px;background:#e6e7e8">pvalue()</div>
<svg class="a th" style="left:1582px;top:1740.9px" width="79.3" height="79.3" viewBox="0 0 79 79"><rect width="79" height="79" fill="#e6e7e8"/><text x="38.7" y="13.9" text-anchor="middle" font-family="Liberation Sans,sans-serif" font-weight="bold" font-size="12.4" fill="#f25aaa">0.0446</text><path d="M23.8 24.8V19.8H53.6V24.8" stroke="#f25aaa" stroke-width="2.3" fill="none"/></svg>
<div class="a m p" style="left:1353.05px;top:1846.1px;width:197.55px;background:#e6e7e8">asterisks()</div>
<svg class="a th" style="left:1582px;top:1829.6px" width="79.3" height="79.3" viewBox="0 0 79 79"><rect width="79" height="79" fill="#e6e7e8"/><text x="38.7" y="21.6" text-anchor="middle" font-family="Liberation Sans,sans-serif" font-weight="bold" font-size="19.5" letter-spacing="0.6" fill="#f25aaa">**</text><path d="M23.8 24.9V19.7H53.6V24.9" stroke="#f25aaa" stroke-width="2.3" fill="none"/></svg>
<div class="a t" style="top:1849.79px;font-size:24.7px;line-height:24.7px;color:#000;left:948.9px;">Example:</div>
<div class="a m p" style="left:942px;top:1886.3px;width:302.85px;background:#e6e7e8">add_test_pvalue()</div>
<div class="a" style="left:901px;top:1959.7px;width:794px;height:70.6px;background:#f2f2f2;"></div>
<div class="a t" style="top:1977.01px;font-size:37.2px;line-height:37.2px;color:#000;font-weight:bold;left:923px;">Distribution</div>
<div class="a m bd" style="left:1590.6px;top:1977px;width:82.2px;height:35.8px;line-height:37.2px;font-size:26px;letter-spacing:1.9px;border-radius:11px;text-indent:1.9px">link</div>
<div class="a m p" style="left:938.45px;top:2073.8px;width:232.65px;background:#e6e7e8">add_boxplot()</div>
<svg class="a th" style="left:1200px;top:2052px" width="79.3" height="79.3" viewBox="0 0 79 79"><rect width="79" height="79" fill="#e6e7e8"/><rect x="16.6" y="45.9" width="14.8" height="17.6" fill="#ecc3dd" stroke="#f25aaa" stroke-width="2.2"/><path d="M16.9 34.8H30.7M16.9 71.8H30.7M24 34.8V45.9M24 63.5V71.8M16.6 54.7H31.4" stroke="#f25aaa" stroke-width="2.2" fill="none"/><rect x="45.9" y="17.1" width="15.7" height="10.6" fill="#ecc3dd" stroke="#f25aaa" stroke-width="2.2"/><path d="M46.7 10.9H60.6M46.7 32.5H60.6M53.7 10.9V17.1M53.7 27.7V32.5M45.9 22.4H61.6" stroke="#f25aaa" stroke-width="2.2" fill="none"/></svg>
<div class="a m p" style="left:1335.5px;top:2073.8px;width:215.1px;background:#e6e7e8">add_violin()</div>
<svg class="a th" style="left:1583px;top:2052px" width="79.3" height="79.3" viewBox="0 0 79 79"><rect width="79" height="79" fill="#e6e7e8"/><path d="M23.6 35.4L29.3 42.2Q31.3 44.5 30.8 47C30 52 27 58 25.9 61.9Q24.5 66 23.6 69.3Q22.7 66 21.3 61.9C20.2 58 17.2 52 16.4 47Q15.9 44.5 17.9 42.2Z" fill="#ecc3dd" stroke="#f25aaa" stroke-width="2.2" stroke-miterlimit="10"/><path d="M53.4 8.5C53.6 12 54.3 14 55.1 15.7C57 19 61.3 21.5 61.3 26C61.3 30 56.5 32.5 53.4 36C50.3 32.5 45.5 30 45.5 26C45.5 21.5 49.8 19 51.7 15.7C52.5 14 53.2 12 53.4 8.5Z" fill="#ecc3dd" stroke="#f25aaa" stroke-width="2.2" stroke-miterlimit="10"/><polygon points="52.3,9.3 54.5,9.3 53.4,6.6" fill="#f25aaa"/></svg>
<div class="a" style="left:901px;top:2159px;width:794px;height:70.6px;background:#f2f2f2;"></div>
<div class="a t" style="top:2175.71px;font-size:37.2px;line-height:37.2px;color:#000;font-weight:bold;left:923px;">Proportion</div>
<div class="a m bd" style="left:1590.6px;top:2176.2px;width:82.2px;height:35.8px;line-height:37.2px;font-size:26px;letter-spacing:1.9px;border-radius:11px;text-indent:1.9px">link</div>
<div class="a m p" style="left:920.9px;top:2281.3px;width:250.2px;background:#e6e7e8">add_barstack()</div>
<svg class="a th" style="left:1200px;top:2259.1px" width="79.3" height="79.3" viewBox="0 0 79 79"><rect width="79" height="79" fill="#e6e7e8"/><rect x="16.4" y="24" width="15" height="29.7" fill="#ed97c6"/><rect x="16.4" y="58.4" width="15" height="21" fill="#ed97c6"/><rect x="45.9" y="10.4" width="15.3" height="16.9" fill="#ed97c6"/><rect x="45.9" y="31.9" width="15.3" height="48" fill="#ed97c6"/></svg>
<div class="a m p" style="left:1388.15px;top:2281.3px;width:162.45px;background:#e6e7e8">add_pie()</div>
<svg class="a th" style="left:1583px;top:2259.1px" width="79.3" height="79.3" viewBox="0 0 79 79"><rect width="79" height="79" fill="#e6e7e8"/><circle cx="39.5" cy="38.5" r="24.3" fill="#ed97c6"/><path d="M39.5 13V38.5L62 51.5" stroke="#e6e7e8" stroke-width="4.5" fill="none"/></svg>
<div class="a m p" style="left:903.35px;top:2374.4px;width:267.75px;background:#e6e7e8">add_areastack()</div>
<svg class="a th" style="left:1200px;top:2352.5px" width="79.3" height="79.3" viewBox="0 0 79 79"><rect width="79" height="79" fill="#e6e7e8"/><polygon points="23.5,26.6 54.4,13.2 54.4,25.8 23.5,52.5" fill="#ed97c6"/><polygon points="23.5,58.2 54.4,31.9 54.4,79 23.5,79" fill="#ed97c6"/></svg>
<div class="a m p" style="left:1353.05px;top:2374.4px;width:197.55px;background:#e6e7e8">add_donut()</div>
<svg class="a th" style="left:1583px;top:2352.5px" width="79.3" height="79.3" viewBox="0 0 79 79"><rect width="79" height="79" fill="#e6e7e8"/><circle cx="39.5" cy="38.4" r="19.05" fill="none" stroke="#ed97c6" stroke-width="10.5"/><path d="M39.5 13V26M51 45L62 51.4" stroke="#e6e7e8" stroke-width="4.5" fill="none"/></svg>
<div class="a" style="left:1751.3px;top:113.8px;width:793.7px;height:70.6px;background:#f2f2f2;"></div>
<div class="a t" style="top:131.61px;font-size:37.2px;line-height:37.2px;color:#000;font-weight:bold;left:1772.9px;">Annotation</div>
<div class="a m bd" style="left:2440.8px;top:132px;width:82.2px;height:35.8px;line-height:37.2px;font-size:26px;letter-spacing:1.9px;border-radius:11px;text-indent:1.9px">link</div>
<div class="a m p" style="left:1770.5px;top:222.2px;width:197.55px;background:#e6e7e8">add_title()</div>
<div class="a m p" style="left:1770.5px;top:289.9px;width:232.65px;background:#e6e7e8">add_caption()</div>
<div class="a m p" style="left:2030.9px;top:222.2px;width:373.05px;background:#e6e7e8">add_annotation_text()</div>
<div class="a m p" style="left:2030.9px;top:289.9px;width:460.8px;background:#e6e7e8">add_annotation_rectangle()</div>
<div class="a m p" style="left:2030.9px;top:357.2px;width:373.05px;background:#e6e7e8">add_annotation_line()</div>
<div class="a m p" style="left:2030.9px;top:450.6px;width:373.05px;background:#e6e7e8">add_reference_lines()</div>
<svg class="a th" style="left:2433.2px;top:429px" width="79.3" height="79.3" viewBox="0 0 79 79"><rect width="79" height="79" fill="#e6e7e8"/><path d="M30.9 -1.5V81M-0.5 46.7H81" stroke="#f25aaa" stroke-width="2" stroke-dasharray="4 3.9" fill="none"/></svg>
<div class="a" style="left:1751.3px;top:542.1px;width:793.7px;height:70.6px;background:#f2f2f2;"></div>
<div class="a t" style="top:559.51px;font-size:37.2px;line-height:37.2px;color:#000;font-weight:bold;left:1772.9px;">ggplot2 code</div>
<div class="a m bd" style="left:2440.8px;top:560.8px;width:82.2px;height:35.8px;line-height:37.2px;font-size:26px;letter-spacing:1.9px;border-radius:11px;text-indent:1.9px">link</div>
<div class="a m p" style="left:1770.5px;top:647.9px;width:92.25px;background:#e6e7e8">add()</div>
<div class="a m p" style="left:1770.5px;top:706.8px;width:460.8px;background:#e6e7e8">add(ggplot2::geom_point())</div>
<div class="a" style="left:1751.3px;top:799.1px;width:793.7px;height:70.6px;background:#f2f2f2;"></div>
<div class="a t" style="top:816.51px;font-size:37.2px;line-height:37.2px;color:#000;font-weight:bold;left:1772.9px;">More</div>
<div class="a m p" style="left:1788.9px;top:921.6px;width:232.65px;background:#e6e7e8">add_heatmap()</div>
<svg class="a th" style="left:2051px;top:900.1px" width="79.3" height="79.3" viewBox="0 0 79 79"><rect width="79" height="79" fill="#e6e7e8"/><rect x="8.0" y="8.90" width="7.8" height="7.8" fill="#ed97c6"/><rect x="8.0" y="19.75" width="7.8" height="7.8" fill="#ed97c6"/><rect x="8.0" y="30.60" width="7.8" height="7.8" fill="#ed97c6"/><rect x="8.0" y="41.45" width="7.8" height="7.8" fill="#ed97c6"/><rect x="8.0" y="52.30" width="7.8" height="7.8" fill="#ed97c6"/><rect x="8.0" y="63.15" width="7.8" height="7.8" fill="#ed97c6"/><rect x="19.0" y="8.90" width="7.8" height="7.8" fill="#ed97c6"/><rect x="19.0" y="19.75" width="7.8" height="7.8" fill="#ed97c6"/><rect x="19.0" y="30.60" width="7.8" height="7.8" fill="#ed97c6"/><rect x="19.0" y="41.45" width="7.8" height="7.8" fill="#ed97c6"/><rect x="19.0" y="52.30" width="7.8" height="7.8" fill="#ed97c6"/><rect x="19.0" y="63.15" width="7.8" height="7.8" fill="#ed97c6"/><rect x="30.0" y="8.90" width="7.8" height="7.8" fill="#ed97c6"/><rect x="30.0" y="19.75" width="7.8" height="7.8" fill="#ed97c6"/><rect x="30.0" y="30.60" width="7.8" height="7.8" fill="#ed97c6"/><rect x="30.0" y="41.45" width="7.8" height="7.8" fill="#ed97c6"/><rect x="30.0" y="52.30" width="7.8" height="7.8" fill="#ed97c6"/><rect x="30.0" y="63.15" width="7.8" height="7.8" fill="#ed97c6"/><rect x="41.0" y="8.90" width="7.8" height="7.8" fill="#ed97c6"/><rect x="41.0" y="19.75" width="7.8" height="7.8" fill="#ed97c6"/><rect x="41.0" y="30.60" width="7.8" height="7.8" fill="#ed97c6"/><rect x="41.0" y="41.45" width="7.8" height="7.8" fill="#ed97c6"/><rect x="41.0" y="52.30" width="7.8" height="7.8" fill="#ed97c6"/><rect x="41.0" y="63.15" width="7.8" height="7.8" fill="#ed97c6"/><rect x="52.0" y="8.90" width="7.8" height="7.8" fill="#ed97c6"/><rect x="52.0" y="19.75" width="7.8" height="7.8" fill="#ed97c6"/><rect x="52.0" y="30.60" width="7.8" height="7.8" fill="#ed97c6"/><rect x="52.0" y="41.45" width="7.8" height="7.8" fill="#ed97c6"/><rect x="52.0" y="52.30" width="7.8" height="7.8" fill="#ed97c6"/><rect x="52.0" y="63.15" width="7.8" height="7.8" fill="#ed97c6"/><rect x="63.0" y="8.90" width="7.8" height="7.8" fill="#ed97c6"/><rect x="63.0" y="19.75" width="7.8" height="7.8" fill="#ed97c6"/><rect x="63.0" y="30.60" width="7.8" height="7.8" fill="#ed97c6"/><rect x="63.0" y="41.45" width="7.8" height="7.8" fill="#ed97c6"/><rect x="63.0" y="52.30" width="7.8" height="7.8" fill="#ed97c6"/><rect x="63.0" y="63.15" width="7.8" height="7.8" fill="#ed97c6"/></svg>
<div class="a m p" style="left:2151.1px;top:921.6px;width:250.2px;background:#e6e7e8">add_curvefit()</div>
<svg class="a th" style="left:2433.2px;top:900.1px" width="79.3" height="79.3" viewBox="0 0 79 79"><rect width="79" height="79" fill="#e6e7e8"/><path d="M9.2 63.6C28 63.6 35 60 37.6 51.6C40 44 42 36 45 30C50 20 58 15.3 73 15.3" stroke="#ecc3dd" stroke-width="16.3" fill="none"/><path d="M9.2 63.6C28 63.6 35 60 37.6 51.6C40 44 42 36 45 30C50 20 58 15.3 73 15.3" stroke="#f25aaa" stroke-width="2" fill="none"/></svg>
<div class="a m p" style="left:1788.7px;top:1004.9px;width:267.75px;background:#e6e7e8">add_histogram()</div>
<div class="a t" style="top:1175.01px;font-size:53.5px;line-height:53.5px;color:#f7941d;font-weight:bold;left:1801px;">Adjust</div>
<div class="a" style="left:1790.1px;top:1258.9px;width:793.8px;height:70.6px;background:#f2f2f2;"></div>
<div class="a t" style="top:1277.51px;font-size:37.2px;line-height:37.2px;color:#000;font-weight:bold;left:1800.1px;">Plot</div>
<div class="a m bd" style="left:2476.1px;top:1276.1px;width:82.2px;height:35.8px;line-height:37.2px;font-size:26px;letter-spacing:1.9px;border-radius:11px;text-indent:1.9px">link</div>
<div class="a m p" style="left:1798.9px;top:1351.7px;width:232.65px;background:#e6e7e8">adjust_size()</div>
<div class="a m p" style="left:1798.9px;top:1411px;width:267.75px;background:#e6e7e8">adjust_colors()</div>
<div class="a m p" style="left:1798.9px;top:1471.9px;width:232.65px;background:#e6e7e8">adjust_font()</div>
<div class="a m p" style="left:2122.7px;top:1351.7px;width:355.5px;background:#e6e7e8">adjust_description()</div>
<div class="a m p" style="left:2122.7px;top:1411px;width:285.3px;background:#e6e7e8">adjust_padding()</div>
<div class="a m p" style="left:2122.7px;top:1471.9px;width:373.05px;background:#e6e7e8">adjust_legend_title()</div>
<div class="a m p" style="left:2122.7px;top:1530.4px;width:425.7px;background:#e6e7e8">adjust_legend_position()</div>
<div class="a" style="left:1790.1px;top:1617.9px;width:793.8px;height:70.6px;background:#f2f2f2;"></div>
<div class="a t" style="top:1635.31px;font-size:37.2px;line-height:37.2px;color:#000;font-weight:bold;left:1800.1px;">Axes</div>
<div class="a m bd" style="left:2476.1px;top:1637.2px;width:82.2px;height:35.8px;line-height:37.2px;font-size:26px;letter-spacing:1.9px;border-radius:11px;text-indent:1.9px">link</div>
<div class="a m p" style="left:1798.9px;top:1709.9px;width:267.75px;background:#e6e7e8">adjust_x_axis()</div>
<div class="a m p" style="left:2198px;top:1709.9px;width:267.75px;background:#e6e7e8">adjust_y_axis()</div>
<div class="a m p" style="left:1798.9px;top:1766.8px;width:373.05px;background:#e6e7e8">adjust_x_axis_title()</div>
<div class="a m p" style="left:2198px;top:1766.8px;width:373.05px;background:#e6e7e8">adjust_y_axis_title()</div>
<div class="a" style="left:1790.1px;top:1855px;width:793.8px;height:70.6px;background:#f2f2f2;"></div>
<div class="a t" style="top:1873.61px;font-size:37.2px;line-height:37.2px;color:#000;font-weight:bold;left:1800.1px;">Data labels</div>
<div class="a m bd" style="left:2476.1px;top:1871.1px;width:82.2px;height:35.8px;line-height:37.2px;font-size:26px;letter-spacing:1.9px;border-radius:11px;text-indent:1.9px">link</div>
<div class="a m p" style="left:1827px;top:1972.6px;width:127.35px;background:#e6e7e8">rename_</div>
<div class="a m p" style="left:1827px;top:2013.8px;width:144.9px;background:#e6e7e8">reorder_</div>
<div class="a m p" style="left:1827px;top:2055px;width:92.25px;background:#e6e7e8">sort_</div>
<div class="a m p" style="left:1827px;top:2096.2px;width:144.9px;background:#e6e7e8">reverse_</div>
<div class="a m p" style="left:2283.4px;top:1972.6px;width:250.2px;background:#e6e7e8">color_labels()</div>
<div class="a m p" style="left:2265.85px;top:2013.8px;width:267.75px;background:#e6e7e8">x_axis_labels()</div>
<div class="a m p" style="left:2265.85px;top:2055px;width:267.75px;background:#e6e7e8">y_axis_labels()</div>
<div class="a t" style="top:2184.59px;font-size:24.7px;line-height:24.7px;color:#000;left:1831px;">Examples:</div>
<div class="a m p" style="left:1823.8px;top:2221.5px;width:373.05px;background:#e6e7e8">rename_color_labels()</div>
<div class="a m p" style="left:1823.8px;top:2272px;width:355.5px;background:#e6e7e8">sort_x_axis_labels()</div>
<div class="a m p" style="left:1823.8px;top:2322.8px;width:408.15px;background:#e6e7e8">reorder_y_axis_labels()</div>
<div class="a t" style="top:37.21px;font-size:53.5px;line-height:53.5px;color:#f7941d;font-weight:bold;left:2671.1px;">Remove</div>
<div class="a" style="left:2660.7px;top:112.7px;width:793.7px;height:70.6px;background:#f2f2f2;"></div>
<div class="a t" style="top:130.01px;font-size:37.2px;line-height:37.2px;color:#000;font-weight:bold;left:2670.3px;">Axes</div>
<div class="a m bd" style="left:3346.8px;top:129.7px;width:82.2px;height:35.8px;line-height:37.2px;font-size:26px;letter-spacing:1.9px;border-radius:11px;text-indent:1.9px">link</div>
<div class="a m p" style="left:2682px;top:232.1px;width:127.35px;background:#e6e7e8">remove_</div>
<div class="a m p" style="left:2963.8px;top:228.8px;width:127.35px;background:#e6e7e8">x_axis_</div>
<div class="a m p" style="left:2963.8px;top:277px;width:127.35px;background:#e6e7e8">y_axis_</div>
<div class="a m p" style="left:3295.8px;top:228.2px;width:109.8px;background:#e6e7e8">line()</div>
<div class="a m p" style="left:3278.25px;top:276.6px;width:127.35px;background:#e6e7e8">ticks()</div>
<div class="a m p" style="left:3260.7px;top:325.4px;width:144.9px;background:#e6e7e8">labels()</div>
<div class="a m p" style="left:3278.25px;top:373.8px;width:127.35px;background:#e6e7e8">title()</div>
<div class="a t" style="top:345.69px;font-size:24.7px;line-height:24.7px;color:#000;left:2674.2px;">Examples:</div>
<div class="a m p" style="left:2667.6px;top:383.1px;width:267.75px;background:#e6e7e8">remove_x_axis()</div>
<div class="a m p" style="left:2667.6px;top:433.1px;width:373.05px;background:#e6e7e8">remove_x_axis_title()</div>
<div class="a" style="left:2660.7px;top:503px;width:793.7px;height:70.6px;background:#f2f2f2;"></div>
<div class="a t" style="top:519.91px;font-size:37.2px;line-height:37.2px;color:#000;font-weight:bold;left:2670.3px;">More</div>
<div class="a m p" style="left:2669.2px;top:600.1px;width:250.2px;background:#e6e7e8">remove_title()</div>
<div class="a m p" style="left:2669.2px;top:655.4px;width:285.3px;background:#e6e7e8">remove_caption()</div>
<div class="a m p" style="left:2671.1px;top:708.9px;width:285.3px;background:#e6e7e8">remove_padding()</div>
<div class="a m p" style="left:3054px;top:598.5px;width:267.75px;background:#e6e7e8">remove_legend()</div>
<div class="a m p" style="left:3054px;top:650.8px;width:373.05px;background:#e6e7e8">remove_legend_title()</div>
<div class="a t" style="top:846.91px;font-size:53.5px;line-height:53.5px;color:#f7941d;font-weight:bold;left:2671.1px;">More</div>
<div class="a" style="left:2660.7px;top:921.6px;width:793.7px;height:70.6px;background:#f2f2f2;"></div>
<div class="a t" style="top:938.91px;font-size:37.2px;line-height:37.2px;color:#000;font-weight:bold;left:2670.3px;">Color schemes</div>
<div class="a m bd" style="left:3349.1px;top:940.2px;width:82.2px;height:35.8px;line-height:37.2px;font-size:26px;letter-spacing:1.9px;border-radius:11px;text-indent:1.9px">link</div>
<div class="a m p" style="left:2673.8px;top:1018.6px;width:285.3px;background:#e6e7e8">colors_discrete_</div>
<div class="a m p" style="left:2794.5px;top:1073.6px;width:144.9px;background:#e6e7e8">friendly</div>
<div class="a" style="left:2972.3px;top:1082.7px;width:52px;height:18px;background:#0072B2;"></div>
<div class="a" style="left:3029.5px;top:1082.7px;width:52px;height:18px;background:#56B4E9;"></div>
<div class="a" style="left:3086.7px;top:1082.7px;width:52px;height:18px;background:#009E73;"></div>
<div class="a" style="left:3143.9px;top:1082.7px;width:52px;height:18px;background:#F0E442;"></div>
<div class="a" style="left:3201.1px;top:1082.7px;width:52px;height:18px;background:#E69F00;"></div>
<div class="a" style="left:3258.3px;top:1082.7px;width:52px;height:18px;background:#D55E00;"></div>
<div class="a m p" style="left:2812.05px;top:1125.5px;width:127.35px;background:#e6e7e8">seaside</div>
<div class="a" style="left:2972.3px;top:1134.2px;width:52px;height:18px;background:#8ecae6;"></div>
<div class="a" style="left:3029.5px;top:1134.2px;width:52px;height:18px;background:#219ebc;"></div>
<div class="a" style="left:3086.7px;top:1134.2px;width:52px;height:18px;background:#023047;"></div>
<div class="a" style="left:3143.9px;top:1134.2px;width:52px;height:18px;background:#ffb703;"></div>
<div class="a" style="left:3201.1px;top:1134.2px;width:52px;height:18px;background:#fb8500;"></div>
<div class="a m p" style="left:2847.15px;top:1177.1px;width:92.25px;background:#e6e7e8">apple</div>
<div class="a" style="left:2972.3px;top:1186.6px;width:52px;height:18px;background:#ff3b30;"></div>
<div class="a" style="left:3029.5px;top:1186.6px;width:52px;height:18px;background:#ff9500;"></div>
<div class="a" style="left:3086.7px;top:1186.6px;width:52px;height:18px;background:#ffcc00;"></div>
<div class="a" style="left:3143.9px;top:1186.6px;width:52px;height:18px;background:#4cd964;"></div>
<div class="a" style="left:3201.1px;top:1186.6px;width:52px;height:18px;background:#5ac8fa;"></div>
<div class="a" style="left:3258.3px;top:1186.6px;width:52px;height:18px;background:#007aff;"></div>
<div class="a" style="left:3315.5px;top:1186.6px;width:52px;height:18px;background:#5856d6;"></div>
<div class="a m p" style="left:2673.8px;top:1231.7px;width:320.4px;background:#e6e7e8">colors_continuous_</div>
<div class="a m p" style="left:2808.95px;top:1293.3px;width:127.35px;background:#e6e7e8">viridis</div>
<div class="a m p" style="left:2826.5px;top:1345.1px;width:109.8px;background:#e6e7e8">plasma</div>
<div class="a m p" style="left:2861.6px;top:1397px;width:74.7px;background:#e6e7e8">mako</div>
<div class="a m p" style="left:2673.8px;top:1456.5px;width:302.85px;background:#e6e7e8">colors_diverging_</div>
<div class="a m p" style="left:2758.2px;top:1519.8px;width:180px;background:#e6e7e8">blue2brown</div>
<div class="a m p" style="left:2793.3px;top:1571.7px;width:144.9px;background:#e6e7e8">blue2red</div>
<div class="a m p" style="left:2793.3px;top:1623.5px;width:144.9px;background:#e6e7e8">spectral</div>
<div class="a" style="left:2660.7px;top:1687px;width:793.7px;height:70.6px;background:#f2f2f2;"></div>
<div class="a t" style="top:1705.41px;font-size:37.2px;line-height:37.2px;color:#000;font-weight:bold;left:2670.3px;">Split plot</div>
<div class="a m bd" style="left:3349.1px;top:1704px;width:82.2px;height:35.8px;line-height:37.2px;font-size:26px;letter-spacing:1.9px;border-radius:11px;text-indent:1.9px">link</div>
<div class="a m p" style="left:2671.1px;top:1785.1px;width:548.55px;background:#e6e7e8">split_plot(by, ncol, nrow, ...)</div>
<div class="a" style="left:2660.7px;top:1858.9px;width:793.7px;height:70.6px;background:#f2f2f2;"></div>
<div class="a t" style="top:1877.01px;font-size:37.2px;line-height:37.2px;color:#000;font-weight:bold;left:2670.3px;">Output</div>
<div class="a m bd" style="left:3349.1px;top:1874.8px;width:82.2px;height:35.8px;line-height:37.2px;font-size:26px;letter-spacing:1.9px;border-radius:11px;text-indent:1.9px">link</div>
<div class="a m p" style="left:2671.1px;top:1948.1px;width:425.7px;background:#e6e7e8">save_plot(”my_plot.pdf”)</div>
<div class="a m p" style="left:2671.1px;top:2003.1px;width:197.55px;background:#e6e7e8">view_plot()</div>
<div class="a" style="left:2660.7px;top:2069.1px;width:793.7px;height:70.6px;background:#f2f2f2;"></div>
<div class="a t" style="top:2086.81px;font-size:37.2px;line-height:37.2px;color:#000;font-weight:bold;left:2670.3px;">Datasets</div>
<div class="a m bd" style="left:3349.1px;top:2086.9px;width:82.2px;height:35.8px;line-height:37.2px;font-size:26px;letter-spacing:1.9px;border-radius:11px;text-indent:1.9px">link</div>
<div class="a m p" style="left:2671.1px;top:2170.7px;width:127.35px;background:#e6e7e8">animals</div>
<div class="a m p" style="left:2671.1px;top:2224.2px;width:127.35px;background:#e6e7e8">climate</div>
<div class="a m p" style="left:2671.1px;top:2274.5px;width:162.45px;background:#e6e7e8">dinosaurs</div>
<div class="a m p" style="left:2671.1px;top:2324.8px;width:232.65px;background:#e6e7e8">distributions</div>
<div class="a m p" style="left:2671.1px;top:2374.8px;width:109.8px;background:#e6e7e8">energy</div>
<div class="a m p" style="left:2961.9px;top:2171.1px;width:197.55px;background:#e6e7e8">energy_week</div>
<div class="a m p" style="left:2959.2px;top:2224.2px;width:267.75px;background:#e6e7e8">gene_expression</div>
<div class="a m p" style="left:2959.2px;top:2274.5px;width:162.45px;background:#e6e7e8">spendings</div>
<div class="a m p" style="left:2959.2px;top:2324.8px;width:92.25px;background:#e6e7e8">study</div>
<div class="a m p" style="left:2959.2px;top:2378.7px;width:197.55px;background:#e6e7e8">time_course</div>
</body></html>
